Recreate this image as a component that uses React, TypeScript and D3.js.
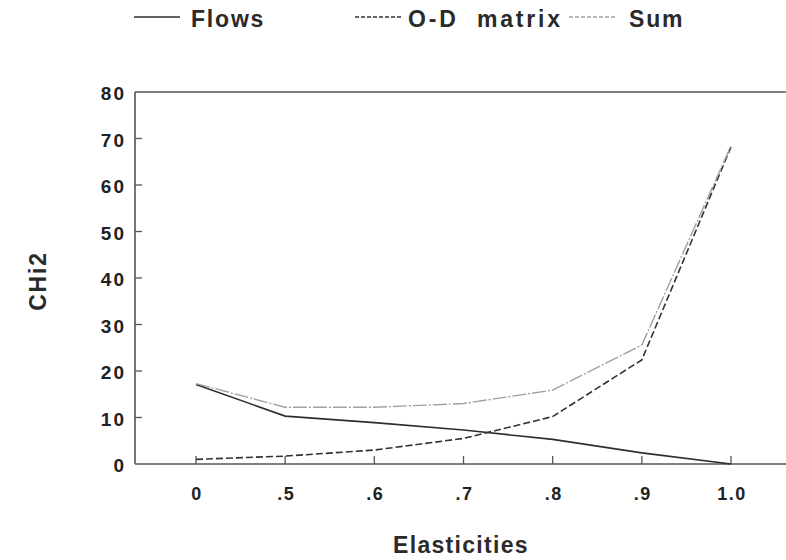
import React from "react";
import * as d3 from "d3";

const categories = ["0", ".5", ".6", ".7", ".8", ".9", "1.0"];
const flows = [17.1, 10.3, 8.9, 7.3, 5.3, 2.4, 0];
const odMatrix = [1.0, 1.7, 3.0, 5.5, 10.2, 22.4, 68.2];
const sumValues = [17.3, 12.2, 12.2, 13.0, 15.9, 25.6, 68.4];
const yTicks = [0, 10, 20, 30, 40, 50, 60, 70, 80];

const W = 786;
const H = 560;
const left = 135;
const right = 786;
const top = 92;
const bottom = 464;
const FONT = "'Liberation Sans', Arial, Helvetica, sans-serif";

export default function App() {
  const x = d3.scalePoint<string>().domain(categories).range([196, 731]);
  const y = d3.scaleLinear().domain([0, 80]).range([bottom, top]);
  const line = d3
    .line<number>()
    .x((_, i) => x(categories[i]) as number)
    .y((d) => y(d));

  const series = [
    { name: "Flows", values: flows, stroke: "#2e2e2e", dash: "", width: 1.6 },
    { name: "O-D  matrix", values: odMatrix, stroke: "#333", dash: "7,3", width: 1.6 },
    { name: "Sum", values: sumValues, stroke: "#a0a0a0", dash: "14,2,2,2", width: 1.4 },
  ];

  const legend = [
    { x1: 134, x2: 180, tx: 191, ls: 1.8, s: series[0] },
    { x1: 355, x2: 403, tx: 408, ls: 2.8, s: series[1] },
    { x1: 569, x2: 617, tx: 629, ls: 1.8, s: series[2] },
  ];

  return (
    <svg
      width={W}
      height={H}
      style={{ position: "absolute", left: 0, top: 0, background: "#fff" }}
      fontFamily={FONT}
    >
      <rect width={W} height={H} fill="#fff" />
      {/* legend */}
      {legend.map((l, i) => (
        <g key={i}>
          <line
            x1={l.x1}
            x2={l.x2}
            y1={17}
            y2={17}
            stroke={l.s.stroke}
            strokeWidth={1.3}
            strokeDasharray={l.s.dash ? "4,2" : undefined}
          />
          <text
            x={l.tx}
            y={27}
            fontSize={23}
            fontWeight="bold"
            fill="#2a2a2a"
            letterSpacing={l.ls}
            style={{ whiteSpace: "pre" }}
          >
            {l.s.name}
          </text>
        </g>
      ))}

      {/* frame */}
      <line x1={left} x2={right} y1={top} y2={top} stroke="#555" strokeWidth={1.6} />
      <line x1={left} x2={right} y1={bottom} y2={bottom} stroke="#555" strokeWidth={1.6} />
      <line x1={left} x2={left} y1={top} y2={bottom} stroke="#555" strokeWidth={1.6} />

      {/* y ticks */}
      {yTicks.map((t) => (
        <g key={t}>
          {t > 0 && t < 80 && (
            <line x1={left} x2={left + 7} y1={y(t)} y2={y(t)} stroke="#555" strokeWidth={1.3} />
          )}
          <text
            x={126}
            y={y(t) + 8}
            textAnchor="end"
            fontSize={19}
            fontWeight="bold"
            letterSpacing={2}
            fill="#222"
          >
            {t}
          </text>
        </g>
      ))}

      {/* x ticks */}
      {categories.map((c) => (
        <g key={c}>
          <line
            x1={x(c) as number}
            x2={x(c) as number}
            y1={bottom}
            y2={bottom - 8}
            stroke="#555"
            strokeWidth={1.3}
          />
          <text
            x={(x(c) as number) + 1}
            y={500}
            textAnchor="middle"
            fontSize={18}
            fontWeight="bold"
            letterSpacing={1.5}
            fill="#222"
          >
            {c}
          </text>
        </g>
      ))}

      {/* series */}
      {series.map((s) => (
        <path
          key={s.name}
          d={line(s.values) as string}
          fill="none"
          stroke={s.stroke}
          strokeWidth={s.width}
          strokeDasharray={s.dash || undefined}
        />
      ))}

      {/* axis titles */}
      <text
        x={461}
        y={553}
        textAnchor="middle"
        fontSize={23}
        fontWeight="bold"
        letterSpacing={1.3}
        fill="#2a2a2a"
      >
        Elasticities
      </text>
      <text
        transform="translate(46,281) rotate(-90)"
        textAnchor="middle"
        fontSize={23}
        fontWeight="bold"
        letterSpacing={1.8}
        fill="#2a2a2a"
      >
        CHi2
      </text>
    </svg>
  );
}
